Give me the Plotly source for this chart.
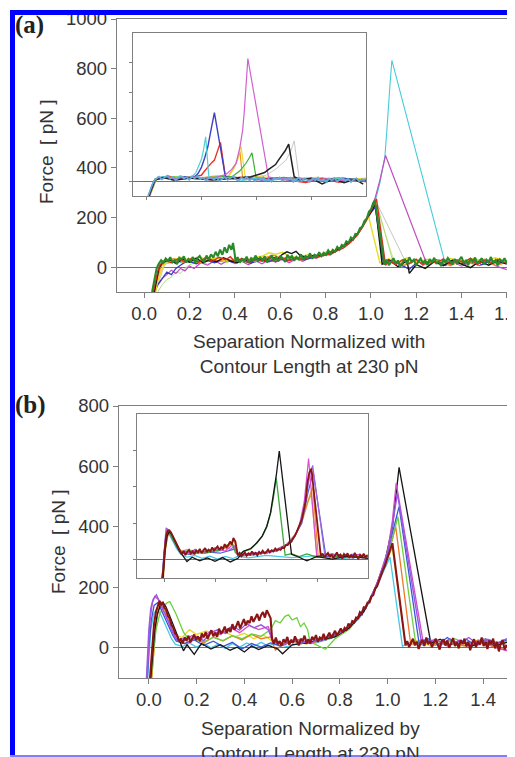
import plotly.graph_objects as go

# ---------------- panel (a), main plot: (separation, force pN) ----------------
A_GREEN = [(0.035, -100), (0.045, -50), (0.055, -5), (0.065, 15), (0.075, 28), (0.085, 18), (0.095, 35),
           (0.105, 26), (0.115, 40), (0.125, 20), (0.135, 29), (0.145, 12), (0.155, 38), (0.165, 31),
           (0.175, 44), (0.185, 19), (0.195, 33), (0.205, 24), (0.215, 41), (0.225, 17), (0.235, 36),
           (0.245, 45), (0.255, 28), (0.265, 22), (0.275, 47), (0.285, 30), (0.295, 52), (0.305, 38),
           (0.315, 62), (0.325, 44), (0.335, 71), (0.345, 50), (0.355, 80), (0.365, 58), (0.375, 90),
           (0.385, 70), (0.392, 98), (0.398, 62), (0.403, 25), (0.412, 40), (0.422, 18), (0.432, 33),
           (0.442, 24), (0.452, 42), (0.462, 20), (0.472, 36), (0.482, 28), (0.492, 47), (0.502, 22),
           (0.512, 39), (0.522, 30), (0.532, 44), (0.542, 19), (0.552, 35), (0.562, 48), (0.572, 27),
           (0.582, 40), (0.592, 24), (0.602, 46), (0.612, 33), (0.622, 21), (0.632, 50), (0.642, 36),
           (0.652, 45), (0.662, 26), (0.672, 41), (0.682, 32), (0.692, 52), (0.702, 30), (0.712, 44),
           (0.722, 38), (0.732, 56), (0.742, 34), (0.752, 50), (0.762, 42), (0.772, 60), (0.782, 45),
           (0.792, 58), (0.802, 50), (0.812, 68), (0.822, 54), (0.832, 70), (0.842, 63), (0.852, 82),
           (0.862, 71), (0.872, 90), (0.882, 85), (0.892, 104), (0.902, 97), (0.912, 120), (0.922, 112),
           (0.932, 134), (0.942, 133), (0.952, 157), (0.962, 162), (0.972, 186), (0.982, 196), (0.992, 224),
           (1.002, 234), (1.010, 258), (1.018, 268), (1.060, 10), (1.07, 30), (1.08, 8), (1.09, 22),
           (1.10, 36), (1.11, 14), (1.12, 27), (1.13, 3), (1.14, 18), (1.15, 33), (1.16, 12), (1.17, 40),
           (1.18, 21), (1.19, 30), (1.20, 6), (1.21, 24), (1.22, 35), (1.23, 15), (1.24, 28), (1.25, 9),
           (1.26, 32), (1.27, 20), (1.28, 38), (1.29, 13), (1.30, 26), (1.31, 4), (1.32, 30), (1.33, 19),
           (1.34, 37), (1.35, 23), (1.36, 10), (1.37, 33), (1.38, 16), (1.39, 29), (1.40, 42), (1.41, 18),
           (1.42, 27), (1.43, 8), (1.44, 34), (1.45, 21), (1.46, 39), (1.47, 14), (1.48, 25), (1.49, 36),
           (1.50, 11), (1.51, 30), (1.52, 19), (1.53, 41), (1.54, 16), (1.55, 28), (1.56, 7), (1.57, 31),
           (1.58, 22), (1.59, 36), (1.60, 15)]
A_RED = [(0.04, -100), (0.05, -60), (0.06, -15), (0.07, 10), (0.09, 28), (0.12, 18), (0.15, 34), (0.18, 22),
         (0.21, 36), (0.24, 20), (0.27, 38), (0.30, 24), (0.33, 40), (0.36, 30), (0.38, 42), (0.40, 22),
         (0.43, 35), (0.46, 18), (0.49, 32), (0.52, 24), (0.55, 38), (0.58, 22), (0.61, 36), (0.64, 26),
         (0.67, 40), (0.70, 30), (0.73, 44), (0.76, 38), (0.79, 52), (0.82, 50), (0.85, 66), (0.88, 78),
         (0.91, 100), (0.94, 128), (0.96, 158), (0.98, 190), (1.00, 228), (1.015, 258), (1.025, 275),
         (1.065, 8), (1.08, 25), (1.11, 10), (1.14, 30), (1.17, 14), (1.20, 32), (1.23, 8), (1.26, 28),
         (1.29, 16), (1.32, 34), (1.35, 12), (1.38, 30), (1.41, 18), (1.44, 36), (1.47, 10), (1.50, 28),
         (1.53, 16), (1.56, 32), (1.59, 18)]
A_BLACK = [(0.045, -100), (0.055, -50), (0.065, -5), (0.08, 18), (0.11, 30), (0.14, 15), (0.17, 32), (0.20, 20),
           (0.23, 36), (0.26, 18), (0.29, 30), (0.32, 22), (0.35, 38), (0.38, 26), (0.41, 18), (0.44, 32),
           (0.47, 22), (0.50, 36), (0.53, 26), (0.56, 40), (0.59, 34), (0.61, 52), (0.63, 62), (0.65, 55),
           (0.67, 64), (0.69, 45), (0.72, 40), (0.75, 48), (0.78, 46), (0.81, 58), (0.84, 62), (0.87, 82),
           (0.90, 98), (0.93, 122), (0.96, 160), (0.98, 192), (1.00, 225), (1.02, 252), (1.05, 12), (1.08, 30),
           (1.12, 2), (1.16, 26), (1.17, -25), (1.20, 10), (1.24, -5), (1.28, 22), (1.32, 6), (1.36, 28),
           (1.40, 12), (1.44, -2), (1.48, 24), (1.52, 8), (1.56, 26), (1.60, 12)]
A_YELLOW = [(0.05, -100), (0.06, -55), (0.075, -15), (0.09, 12), (0.12, 25), (0.16, 40), (0.20, 28), (0.24, 42),
            (0.28, 30), (0.32, 38), (0.36, 26), (0.40, 34), (0.44, 24), (0.48, 38), (0.52, 44), (0.55, 58),
            (0.58, 52), (0.61, 60), (0.64, 44), (0.68, 38), (0.72, 50), (0.76, 44), (0.80, 60), (0.84, 66),
            (0.88, 86), (0.92, 112), (0.95, 145), (0.975, 180), (0.99, 205), (1.04, 18), (1.08, 34), (1.12, 20),
            (1.16, 38), (1.20, 18), (1.25, 32), (1.30, 22), (1.35, 36), (1.40, 20), (1.45, 34), (1.50, 24),
            (1.55, 38), (1.60, 22)]
A_ORANGE = [(0.045, -100), (0.06, -40), (0.075, 5), (0.09, 22), (0.13, 34), (0.17, 20), (0.21, 30), (0.25, 18),
            (0.29, 36), (0.33, 24), (0.37, 32), (0.41, 20), (0.45, 34), (0.49, 22), (0.53, 38), (0.57, 48),
            (0.61, 36), (0.65, 40), (0.69, 30), (0.73, 44), (0.77, 40), (0.81, 56), (0.85, 68), (0.89, 90),
            (0.93, 124), (0.96, 160), (0.99, 210), (1.01, 245), (1.02, 262), (1.062, 12), (1.10, 26), (1.15, 8),
            (1.20, 28), (1.25, 12), (1.30, 30), (1.35, 6), (1.40, 26), (1.45, 14), (1.50, 32), (1.55, 6), (1.60, 20)]
A_MAGENTA = [(0.04, -100), (0.06, -70), (0.08, -45), (0.10, -30), (0.12, -12), (0.14, -25), (0.16, -5),
             (0.18, -15), (0.20, 5), (0.22, -5), (0.25, 18), (0.28, 8), (0.31, 26), (0.34, 12), (0.37, 28),
             (0.40, 14), (0.43, 24), (0.46, 10), (0.49, 26), (0.52, 14), (0.55, 30), (0.58, 20), (0.61, 32),
             (0.64, 18), (0.67, 34), (0.70, 24), (0.73, 40), (0.76, 36), (0.79, 50), (0.82, 52), (0.85, 68),
             (0.88, 84), (0.91, 102), (0.94, 132), (0.97, 172), (1.00, 232), (1.02, 282), (1.04, 350),
             (1.055, 410), (1.065, 450), (1.246, 15), (1.28, 26), (1.32, 8), (1.36, 22), (1.40, 4), (1.44, 20),
             (1.48, 6), (1.52, 24), (1.56, 2), (1.60, -10)]
A_CYAN = [(0.04, -100), (0.055, -45), (0.07, 0), (0.09, 18), (0.13, 30), (0.17, 16), (0.21, 32), (0.25, 20),
          (0.29, 34), (0.33, 22), (0.37, 30), (0.41, 18), (0.45, 30), (0.49, 20), (0.53, 34), (0.57, 24),
          (0.61, 36), (0.65, 26), (0.69, 38), (0.73, 34), (0.77, 46), (0.81, 50), (0.85, 66), (0.89, 88),
          (0.93, 120), (0.96, 158), (0.99, 205), (1.01, 250), (1.025, 284), (1.04, 340), (1.05, 390),
          (1.062, 445), (1.07, 540), (1.077, 648), (1.085, 740), (1.093, 833), (1.327, 20), (1.36, 30),
          (1.40, 14), (1.44, 32), (1.48, 16), (1.52, 30), (1.56, 12), (1.60, 26)]
A_BLUE = [(0.045, -100), (0.06, -70), (0.08, -45), (0.10, -20), (0.12, -30), (0.14, -5), (0.16, 8), (0.19, 25),
          (0.23, 14), (0.27, 30), (0.31, 18), (0.35, 32), (0.39, 20), (0.43, 28), (0.47, 16), (0.51, 30),
          (0.55, 22), (0.59, 34), (0.63, 26), (0.67, 36), (0.71, 30), (0.75, 42), (0.79, 46), (0.83, 58),
          (0.87, 78), (0.91, 104), (0.95, 142), (0.98, 186), (1.00, 220), (1.02, 242), (1.055, 15), (1.09, 28),
          (1.13, 10), (1.17, -8), (1.21, 24), (1.25, 12), (1.29, 30), (1.33, 8), (1.37, 26), (1.41, 14),
          (1.45, 32), (1.49, 10), (1.53, 28), (1.57, 16), (1.60, 24)]
A_PALEGREEN = [(0.06, -100), (0.08, -70), (0.10, -50), (0.12, -40), (0.14, -20), (0.16, -25), (0.18, -5),
               (0.20, 10), (0.24, 22), (0.28, 12), (0.32, 28), (0.36, 18), (0.40, 30), (0.44, 20), (0.50, 32),
               (0.56, 24), (0.62, 36), (0.68, 30), (0.74, 40), (0.80, 50), (0.86, 72), (0.92, 112), (0.96, 158),
               (1.00, 222), (1.03, 245), (1.10, 15), (1.16, 28), (1.24, 14), (1.32, 26), (1.40, 12), (1.48, 28),
               (1.56, 16), (1.60, 22)]
A_GRAY = [(0.05, -100), (0.07, -40), (0.09, 10), (0.14, 28), (0.20, 18), (0.26, 30), (0.32, 20), (0.38, 32),
          (0.44, 22), (0.50, 34), (0.56, 26), (0.62, 38), (0.68, 32), (0.74, 42), (0.80, 50), (0.86, 70),
          (0.92, 110), (0.96, 156), (1.00, 220), (1.03, 252), (1.157, 15), (1.20, 28), (1.26, 14), (1.32, 30),
          (1.40, 16), (1.48, 30), (1.56, 14), (1.60, 24)]
A_PALEYELLOW = [(0.05, -100), (0.07, -30), (0.09, 15), (0.20, 25), (0.40, 28), (0.60, 32), (0.80, 48),
                (0.90, 95), (0.96, 152), (1.00, 215), (1.025, 248), (1.106, 15), (1.20, 22), (1.40, 20), (1.60, 18)]

# ---------------- panel (a), inset ----------------
IA_LBLUE = [(0.005, -100), (0.012, -60), (0.02, -25), (0.028, 5), (0.035, 18), (0.045, 31), (0.055, 12),
            (0.065, 26), (0.075, 38), (0.085, 16), (0.095, 29), (0.105, 6), (0.115, 22), (0.125, 34), (0.135, 18),
            (0.145, 27), (0.155, 10), (0.165, 31), (0.175, 20), (0.185, 36), (0.195, 14), (0.205, 24), (0.215, 5),
            (0.225, 19), (0.235, 30), (0.245, 11), (0.255, 25), (0.265, 2), (0.275, 16), (0.285, 28), (0.295, 9),
            (0.305, 21), (0.315, 33), (0.325, 12), (0.335, 3), (0.345, 24), (0.355, 14), (0.365, 29), (0.375, 6),
            (0.385, 18), (0.395, -1), (0.405, 22), (0.415, 10), (0.425, 27), (0.435, 4), (0.445, 15), (0.455, -3),
            (0.465, 20), (0.475, 12), (0.485, 25), (0.495, 1), (0.505, 16), (0.515, 8), (0.525, 23), (0.535, -5),
            (0.545, 13), (0.555, 22), (0.565, 3), (0.575, 18), (0.585, 9), (0.595, -4), (0.605, 19), (0.615, 6),
            (0.625, 24), (0.635, 0), (0.645, 14), (0.655, -7), (0.665, 17), (0.675, 5), (0.685, 21), (0.695, -2),
            (0.705, 11), (0.715, 23), (0.725, 2), (0.735, 15), (0.745, -6), (0.755, 12), (0.765, 20), (0.775, -1),
            (0.785, 14), (0.795, 3)]
IA_GRAY = [(0.008, -100), (0.02, -40), (0.03, 10), (0.04, 28), (0.06, 15), (0.08, 38), (0.10, 20), (0.12, 34),
           (0.14, 16), (0.16, 30), (0.18, 22), (0.20, 12), (0.24, 28), (0.28, 16), (0.32, 30), (0.36, 12),
           (0.40, 26), (0.44, 10), (0.48, 24), (0.52, 8), (0.56, 22), (0.60, 6), (0.64, 20), (0.68, 4),
           (0.72, 22), (0.76, 8), (0.80, 18)]
IA_CYAN = [(0.006, -100), (0.018, -30), (0.03, 15), (0.06, 30), (0.09, 14), (0.12, 32), (0.15, 18), (0.17, 40),
           (0.18, 60), (0.19, 100), (0.20, 150), (0.207, 210), (0.215, 300), (0.227, 22), (0.25, 10), (0.30, 24),
           (0.35, 6), (0.40, 20), (0.45, 4), (0.50, 18), (0.55, 0), (0.60, 16), (0.65, 2), (0.70, 18), (0.75, 0),
           (0.80, 14)]
IA_BLUE = [(0.007, -100), (0.02, -30), (0.03, 12), (0.06, 26), (0.10, 12), (0.14, 30), (0.17, 20), (0.187, 52),
           (0.20, 95), (0.212, 160), (0.223, 232), (0.235, 350), (0.247, 462), (0.287, 30), (0.32, 14), (0.36, 26),
           (0.42, 8), (0.48, 20), (0.54, 4), (0.60, 18), (0.66, 2), (0.72, 16), (0.80, 6)]
IA_RED = [(0.01, -100), (0.022, -20), (0.035, 15), (0.08, 30), (0.12, 14), (0.16, 28), (0.199, 40), (0.212, 70),
          (0.225, 100), (0.237, 125), (0.247, 142), (0.26, 210), (0.269, 262), (0.287, 30), (0.30, 15), (0.34, 26),
          (0.40, 10), (0.46, 22), (0.52, 6), (0.58, -10), (0.64, 20), (0.70, -8), (0.76, 14), (0.80, -4)]
IA_MAGENTA = [(0.009, -100), (0.02, -40), (0.032, 10), (0.07, 26), (0.12, 12), (0.17, 28), (0.22, 14), (0.26, 30),
              (0.29, 47), (0.31, 80), (0.326, 120), (0.34, 230), (0.35, 345), (0.356, 470), (0.362, 637),
              (0.369, 828), (0.444, 30), (0.48, 14), (0.54, 24), (0.60, 6), (0.66, 18), (0.72, 2), (0.80, 12)]
IA_ORANGE = [(0.01, -100), (0.025, -20), (0.035, 18), (0.10, 30), (0.18, 18), (0.24, 32), (0.30, 40), (0.315, 80),
             (0.33, 140), (0.34, 200), (0.35, 20), (0.40, 28), (0.50, 10), (0.60, 20), (0.70, 4), (0.80, 16)]
IA_YELLOW = [(0.012, -100), (0.03, -10), (0.04, 20), (0.12, 32), (0.20, 20), (0.26, 34), (0.302, 40), (0.32, 90),
             (0.335, 170), (0.344, 236), (0.36, 20), (0.42, 30), (0.52, 14), (0.62, 26), (0.72, 10), (0.80, 20)]
IA_GREEN = [(0.01, -100), (0.025, -25), (0.035, 14), (0.10, 28), (0.18, 16), (0.26, 30), (0.313, 32), (0.34, 70),
            (0.362, 121), (0.375, 160), (0.384, 191), (0.399, 25), (0.44, 12), (0.50, 26), (0.60, 8), (0.70, 22),
            (0.80, 6)]
IA_BLACK = [(0.008, -100), (0.02, -35), (0.03, 8), (0.06, 24), (0.10, 6), (0.16, 22), (0.24, 8), (0.32, 20),
            (0.38, 30), (0.411, 47), (0.43, 58), (0.445, 80), (0.46, 97), (0.47, 112), (0.48, 140), (0.488, 160),
            (0.496, 187), (0.505, 205), (0.518, 250), (0.538, 30), (0.56, 8), (0.60, 20), (0.64, -18), (0.68, 14),
            (0.72, -10), (0.76, 12), (0.79, -20)]
IA_LGRAY = [(0.01, -100), (0.03, 5), (0.05, 30), (0.15, 18), (0.25, 30), (0.35, 20), (0.40, 30), (0.435, 40),
            (0.47, 80), (0.49, 110), (0.508, 142), (0.525, 200), (0.538, 272), (0.556, 20), (0.62, 24), (0.70, 10),
            (0.80, 18)]

# ---------------- panel (b), main plot ----------------
B_DARKRED = [(0.005, -100), (0.01, -50), (0.016, 20), (0.022, 80), (0.03, 120), (0.038, 142), (0.045, 155),
             (0.052, 140), (0.058, 152), (0.065, 132), (0.072, 128), (0.08, 105), (0.088, 98), (0.095, 75),
             (0.102, 68), (0.11, 48), (0.118, 40), (0.126, 22), (0.134, 30), (0.142, 14), (0.15, 35), (0.158, 24),
             (0.166, 40), (0.174, 18), (0.182, 33), (0.19, 44), (0.198, 26), (0.206, 38), (0.214, 22), (0.222, 47),
             (0.23, 35), (0.238, 52), (0.246, 30), (0.254, 44), (0.262, 58), (0.27, 38), (0.278, 50), (0.286, 36),
             (0.294, 63), (0.302, 47), (0.31, 55), (0.318, 70), (0.326, 49), (0.334, 64), (0.342, 52), (0.35, 78),
             (0.358, 60), (0.366, 71), (0.374, 88), (0.382, 64), (0.39, 80), (0.398, 95), (0.406, 74), (0.414, 90),
             (0.422, 82), (0.43, 104), (0.438, 86), (0.446, 97), (0.454, 112), (0.462, 90), (0.47, 108),
             (0.478, 118), (0.486, 100), (0.494, 124), (0.502, 110), (0.51, 98), (0.516, 30), (0.524, 14),
             (0.532, 34), (0.54, 12), (0.548, 22), (0.556, 6), (0.564, 28), (0.572, 18), (0.58, 36), (0.588, 10),
             (0.596, 24), (0.604, 16), (0.612, 38), (0.62, 20), (0.628, 8), (0.636, 30), (0.644, 22), (0.652, 40),
             (0.66, 18), (0.668, 28), (0.676, 14), (0.684, 36), (0.692, 26), (0.70, 42), (0.708, 20), (0.716, 34),
             (0.724, 28), (0.732, 46), (0.74, 26), (0.748, 38), (0.756, 50), (0.764, 32), (0.772, 44), (0.78, 56),
             (0.788, 40), (0.796, 52), (0.804, 64), (0.812, 50), (0.82, 66), (0.828, 60), (0.836, 80), (0.844, 70),
             (0.852, 88), (0.86, 84), (0.868, 100), (0.876, 98), (0.884, 118), (0.892, 112), (0.90, 134),
             (0.908, 132), (0.916, 150), (0.924, 150), (0.932, 170), (0.94, 174), (0.948, 196), (0.956, 204),
             (0.964, 224), (0.972, 236), (0.98, 256), (0.988, 270), (0.996, 290), (1.004, 304), (1.012, 328),
             (1.02, 346), (1.075, 8), (1.082, 22), (1.09, 2), (1.098, 14), (1.106, 30), (1.114, 8), (1.122, 20),
             (1.13, -4), (1.138, 16), (1.146, 26), (1.154, 6), (1.162, 34), (1.17, 12), (1.178, 22), (1.186, 2),
             (1.194, 18), (1.202, 30), (1.21, 10), (1.218, -6), (1.226, 20), (1.234, 28), (1.242, 8), (1.25, 24),
             (1.258, 0), (1.266, 14), (1.274, 32), (1.282, 6), (1.29, 18), (1.298, -2), (1.306, 26), (1.314, 12),
             (1.322, 30), (1.33, 4), (1.338, 20), (1.346, -8), (1.354, 16), (1.362, 28), (1.37, 2), (1.378, 22),
             (1.386, 10), (1.394, 34), (1.402, 6), (1.41, 18), (1.418, -4), (1.426, 24), (1.434, 12), (1.442, 30),
             (1.45, -2), (1.458, 20), (1.466, -12), (1.474, 14), (1.482, 26), (1.49, -6), (1.498, 10)]
B_PURPLE = [(-0.01, -100), (-0.005, -20), (0.0, 60), (0.008, 130), (0.018, 160), (0.032, 175), (0.045, 150),
            (0.06, 125), (0.075, 100), (0.09, 70), (0.105, 45), (0.12, 22), (0.14, 30), (0.17, 18), (0.20, 36),
            (0.23, 24), (0.26, 50), (0.29, 60), (0.32, 48), (0.35, 72), (0.38, 58), (0.41, 80), (0.44, 66),
            (0.47, 76), (0.50, 60), (0.52, 20), (0.56, 12), (0.60, 26), (0.64, 14), (0.68, 28), (0.72, 22),
            (0.76, 40), (0.80, 50), (0.84, 72), (0.88, 106), (0.92, 150), (0.96, 220), (0.99, 290), (1.01, 350),
            (1.025, 430), (1.041, 511), (1.143, 12), (1.18, 26), (1.22, 8), (1.26, 30), (1.30, 14), (1.34, 34),
            (1.38, 10), (1.42, 28), (1.46, 16), (1.50, 30)]
B_MAGENTA = [(-0.008, -100), (-0.002, -10), (0.005, 90), (0.015, 150), (0.025, 170), (0.04, 160), (0.055, 135),
             (0.07, 110), (0.085, 80), (0.10, 50), (0.115, 30), (0.14, 20), (0.18, 40), (0.22, 30), (0.26, 56),
             (0.30, 44), (0.34, 68), (0.38, 50), (0.42, 74), (0.46, 60), (0.50, 70), (0.52, 24), (0.56, 10),
             (0.62, 28), (0.68, 16), (0.74, 34), (0.80, 48), (0.86, 86), (0.92, 150), (0.96, 222), (1.00, 320),
             (1.02, 420), (1.036, 545), (1.15, 14), (1.20, 28), (1.25, 6), (1.30, 24), (1.35, 10), (1.40, 30),
             (1.45, 2), (1.50, -10)]
B_BLACK = [(0.008, -100), (0.015, -30), (0.025, 60), (0.035, 110), (0.048, 140), (0.06, 150), (0.072, 135),
           (0.085, 110), (0.10, 80), (0.115, 50), (0.13, 25), (0.145, -10), (0.16, 10), (0.19, -22), (0.22, 14),
           (0.26, -4), (0.30, 10), (0.34, -8), (0.37, 2), (0.40, -14), (0.43, 6), (0.46, -6), (0.50, 8),
           (0.54, -4), (0.56, -20), (0.60, 10), (0.66, 16), (0.72, 26), (0.78, 36), (0.84, 66), (0.90, 120),
           (0.95, 200), (0.99, 290), (1.02, 400), (1.035, 500), (1.048, 597), (1.181, 15), (1.22, 28), (1.26, 8),
           (1.30, 24), (1.35, 4), (1.40, 22), (1.45, 6), (1.50, 18)]
B_CYAN = [(-0.005, -100), (0.0, -20), (0.008, 60), (0.02, 110), (0.035, 130), (0.05, 110), (0.065, 85), (0.08, 55),
          (0.095, 30), (0.11, 12), (0.14, 4), (0.17, 16), (0.20, 2), (0.23, 14), (0.26, 0), (0.29, 12), (0.32, -2),
          (0.35, 14), (0.38, 2), (0.41, 16), (0.44, 4), (0.47, 18), (0.50, 6), (0.53, 14), (0.58, 4), (0.64, 18),
          (0.70, 16), (0.76, 30), (0.82, 52), (0.88, 96), (0.93, 160), (0.97, 230), (1.01, 300), (1.062, 5),
          (1.10, 20), (1.15, 8), (1.20, 24), (1.25, 10), (1.30, 22), (1.35, 6), (1.40, 26), (1.45, 10), (1.50, 20)]
B_BLUE = [(-0.006, -100), (0.0, 0), (0.01, 90), (0.022, 140), (0.038, 150), (0.055, 120), (0.07, 95), (0.085, 70),
          (0.10, 42), (0.115, 22), (0.15, 14), (0.19, 26), (0.23, 8), (0.27, 22), (0.31, 4), (0.35, 18), (0.39, -4),
          (0.43, 14), (0.47, 2), (0.51, 16), (0.55, 6), (0.60, 22), (0.66, 14), (0.72, 30), (0.78, 40), (0.84, 68),
          (0.90, 118), (0.95, 196), (0.99, 282), (1.02, 380), (1.048, 467), (1.132, 14), (1.17, 30), (1.21, 10),
          (1.25, 34), (1.29, 12), (1.33, 28), (1.37, 6), (1.41, 30), (1.45, 12), (1.50, 26)]
B_YELLOW = [(0.012, -100), (0.02, -20), (0.03, 70), (0.038, 120), (0.046, 150), (0.06, 130), (0.075, 105),
            (0.09, 80), (0.105, 55), (0.12, 40), (0.14, 34), (0.17, 60), (0.20, 44), (0.24, 56), (0.28, 40),
            (0.32, 52), (0.36, 36), (0.40, 48), (0.44, 30), (0.48, 42), (0.52, 20), (0.56, 8), (0.60, 22),
            (0.66, 12), (0.72, 28), (0.78, 36), (0.84, 66), (0.90, 120), (0.95, 200), (0.99, 280), (1.02, 330),
            (1.076, 8), (1.12, 24), (1.18, 6), (1.24, 22), (1.30, 4), (1.36, 20), (1.42, 8), (1.50, 22)]
B_ORANGE = [(0.012, -100), (0.02, -10), (0.03, 80), (0.04, 125), (0.05, 140), (0.065, 130), (0.08, 105),
            (0.095, 75), (0.11, 48), (0.125, 28), (0.15, 14), (0.19, 30), (0.23, 16), (0.27, 36), (0.31, 22),
            (0.35, 40), (0.39, 26), (0.43, 44), (0.47, 30), (0.51, 36), (0.53, -8), (0.56, 10), (0.62, 24),
            (0.68, 14), (0.74, 32), (0.80, 46), (0.86, 82), (0.92, 148), (0.97, 236), (1.01, 330), (1.034, 401),
            (1.097, 10), (1.14, 26), (1.20, 8), (1.26, 24), (1.32, 6), (1.38, 26), (1.44, 4), (1.50, -8)]
B_LGREEN = [(0.01, -100), (0.018, -20), (0.03, 60), (0.045, 110), (0.06, 135), (0.075, 148), (0.088, 153),
            (0.10, 135), (0.115, 110), (0.13, 80), (0.145, 52), (0.16, 36), (0.19, 30), (0.23, 20), (0.27, 34),
            (0.31, 24), (0.35, 40), (0.39, 30), (0.43, 46), (0.47, 38), (0.51, 60), (0.53, 90), (0.55, 82),
            (0.57, 104), (0.585, 109), (0.60, 92), (0.62, 100), (0.635, 70), (0.65, 82), (0.665, 60), (0.675, 20),
            (0.70, 10), (0.74, -5), (0.78, 30), (0.84, 62), (0.90, 120), (0.95, 196), (0.99, 280), (1.02, 360),
            (1.043, 434), (1.118, 12), (1.16, 28), (1.22, 10), (1.28, 30), (1.34, 12), (1.40, 28), (1.46, 8),
            (1.50, 22)]

# ---------------- panel (b), inset ----------------
IB_DARKRED = [(-0.007, -100), (-0.002, -40), (0.003, 60), (0.008, 130), (0.014, 160), (0.021, 162), (0.028, 148),
              (0.035, 128), (0.042, 110), (0.05, 86), (0.057, 66), (0.063, 48), (0.07, 30), (0.077, 48), (0.084, 26),
              (0.091, 42), (0.098, 54), (0.105, 34), (0.112, 46), (0.119, 30), (0.126, 52), (0.133, 40), (0.14, 60),
              (0.147, 36), (0.154, 50), (0.161, 64), (0.168, 42), (0.175, 56), (0.182, 46), (0.189, 68), (0.196, 50),
              (0.203, 62), (0.21, 74), (0.217, 54), (0.224, 70), (0.231, 60), (0.238, 86), (0.245, 68), (0.252, 80),
              (0.259, 100), (0.266, 84), (0.272, 120), (0.28, 100), (0.289, 25), (0.296, 38), (0.303, 18),
              (0.31, 30), (0.317, 40), (0.324, 22), (0.331, 36), (0.338, 28), (0.345, 46), (0.352, 30), (0.359, 38),
              (0.366, 24), (0.373, 44), (0.38, 34), (0.387, 50), (0.394, 36), (0.401, 42), (0.408, 56), (0.415, 40),
              (0.422, 52), (0.429, 46), (0.436, 62), (0.443, 50), (0.45, 58), (0.457, 54), (0.464, 68), (0.471, 64),
              (0.478, 80), (0.485, 80), (0.492, 96), (0.499, 100), (0.506, 118), (0.513, 130), (0.52, 152),
              (0.527, 172), (0.534, 200), (0.541, 225), (0.548, 268), (0.555, 320), (0.562, 420), (0.57, 480),
              (0.578, 500), (0.615, 20), (0.622, 34), (0.629, 12), (0.636, 26), (0.643, 38), (0.65, 16), (0.657, 30),
              (0.664, 8), (0.671, 24), (0.678, 40), (0.685, 18), (0.692, 28), (0.699, 6), (0.706, 32), (0.713, 22),
              (0.72, 36), (0.727, 10), (0.734, 26), (0.741, 14), (0.748, 38), (0.755, 20), (0.762, 4), (0.769, 28),
              (0.776, 16), (0.783, 34), (0.79, 12), (0.797, 24)]
IB_PURPLE = [(-0.008, -100), (-0.003, 0), (0.002, 100), (0.008, 175), (0.015, 168), (0.025, 140), (0.035, 110),
             (0.045, 80), (0.055, 55), (0.065, 35), (0.08, 50), (0.10, 34), (0.12, 56), (0.14, 38), (0.16, 62),
             (0.18, 46), (0.20, 66), (0.22, 50), (0.24, 72), (0.26, 56), (0.28, 80), (0.29, 30), (0.32, 24),
             (0.36, 40), (0.40, 34), (0.44, 56), (0.48, 84), (0.51, 120), (0.54, 220), (0.56, 360), (0.572, 470),
             (0.583, 518), (0.631, 22), (0.66, 34), (0.70, 14), (0.74, 30), (0.78, 10), (0.80, 24)]
IB_MAGENTA = [(-0.006, -100), (0.0, 20), (0.006, 120), (0.012, 165), (0.02, 160), (0.03, 130), (0.045, 90),
              (0.06, 50), (0.08, 34), (0.12, 52), (0.16, 40), (0.20, 62), (0.24, 48), (0.27, 84), (0.29, 26),
              (0.34, 36), (0.40, 42), (0.46, 64), (0.50, 104), (0.53, 180), (0.55, 320), (0.56, 450), (0.567, 555),
              (0.599, 20), (0.64, 32), (0.70, 14), (0.76, 30), (0.80, 16)]
IB_ORANGE = [(-0.004, -100), (0.004, 40), (0.012, 120), (0.02, 150), (0.03, 132), (0.045, 96), (0.06, 58),
             (0.08, 40), (0.14, 46), (0.20, 40), (0.25, 70), (0.275, 105), (0.29, 30), (0.35, 30), (0.42, 44),
             (0.48, 82), (0.52, 150), (0.55, 260), (0.57, 350), (0.583, 400), (0.605, 18), (0.66, 30), (0.72, 12),
             (0.80, 26)]
IB_TAN = [(-0.002, -100), (0.006, 60), (0.016, 140), (0.025, 150), (0.035, 120), (0.05, 80), (0.065, 45),
          (0.09, 56), (0.14, 44), (0.20, 50), (0.26, 90), (0.28, 70), (0.29, 20), (0.36, 34), (0.44, 50), (0.50, 96),
          (0.54, 200), (0.565, 320), (0.578, 358), (0.60, 16), (0.68, 28), (0.80, 14)]
IB_BLUE = [(-0.007, -100), (0.0, 30), (0.01, 140), (0.02, 150), (0.035, 108), (0.05, 70), (0.065, 38), (0.10, 30),
           (0.16, 44), (0.22, 36), (0.28, 60), (0.29, 20), (0.36, 28), (0.44, 48), (0.50, 98), (0.54, 200),
           (0.565, 370), (0.585, 480), (0.635, 18), (0.68, 30), (0.74, 10), (0.80, 24)]
IB_CYAN = [(-0.006, -100), (0.0, 40), (0.01, 130), (0.02, 140), (0.035, 100), (0.05, 60), (0.065, 30), (0.09, 14),
           (0.12, 24), (0.15, 8), (0.18, 20), (0.21, 4), (0.24, 18), (0.27, 6), (0.29, 20), (0.33, 10), (0.40, 24),
           (0.50, 12), (0.60, 22), (0.70, 8), (0.80, 18)]
IB_GREEN = [(-0.005, -100), (0.003, 70), (0.012, 140), (0.02, 150), (0.035, 110), (0.05, 70), (0.065, 40),
            (0.10, 48), (0.16, 36), (0.22, 56), (0.265, 95), (0.28, 40), (0.29, 30), (0.311, 44), (0.34, 58),
            (0.363, 90), (0.385, 128), (0.403, 180), (0.418, 255), (0.429, 340), (0.44, 450), (0.475, 25),
            (0.50, 34), (0.53, 18), (0.56, 32), (0.60, 14), (0.64, 28), (0.70, 12), (0.80, 20)]
IB_BLACK = [(-0.004, -100), (0.004, 50), (0.012, 130), (0.021, 156), (0.03, 140), (0.04, 110), (0.05, 80),
            (0.06, 50), (0.075, 20), (0.09, -10), (0.11, 14), (0.14, -6), (0.17, 10), (0.20, -8), (0.23, 12),
            (0.26, -12), (0.29, 8), (0.311, 46), (0.34, 62), (0.363, 92), (0.385, 130), (0.403, 184), (0.418, 260),
            (0.429, 349), (0.44, 460), (0.452, 597), (0.494, 128), (0.50, 30), (0.53, 14), (0.56, -6), (0.60, 18),
            (0.66, 4), (0.72, 20), (0.80, 8)]

# the page body keeps its default 8px margin, so the figure sits 8px in from the window corner
OFF = 8
W, H = 515 - OFF, 757 - OFF
FRAME = '#7f7f7f'
TXT = '#333333'
SANS = 'Liberation Sans, Arial, sans-serif'


def fx(p):
    return (p - OFF) / W


def fy(p):
    return 1 - (p - OFF) / H


fig = go.Figure()


def add(curve, color, xa, ya, width=1.2):
    xs = [c[0] for c in curve]
    ys = [c[1] for c in curve]
    fig.add_trace(go.Scatter(x=xs, y=ys, mode='lines', line=dict(color=color, width=width),
                             xaxis=xa, yaxis=ya, showlegend=False, hoverinfo='skip'))


# panel (a) main
add(A_PALEYELLOW, '#e6dc9a', 'x', 'y', 1)
add(A_GRAY, '#c6c6c6', 'x', 'y', 1)
add(A_PALEGREEN, '#a8e07a', 'x', 'y', 1)
add(A_CYAN, '#46ccd8', 'x', 'y', 1.1)
add(A_MAGENTA, '#c04cc0', 'x', 'y', 1.2)
add(A_BLUE, '#3a3ac8', 'x', 'y', 1.3)
add(A_ORANGE, '#f08a20', 'x', 'y', 1.3)
add(A_YELLOW, '#e8dc20', 'x', 'y', 1.4)
add(A_BLACK, '#151515', 'x', 'y', 1.4)
add(A_RED, '#e02a1e', 'x', 'y', 1.4)
add(A_GREEN, '#2a8a2a', 'x', 'y', 2.1)

# panel (a) inset
add(IA_LGRAY, '#c8c8c8', 'x2', 'y2', 1)
add(IA_GRAY, '#8c8c8c', 'x2', 'y2', 1)
add(IA_ORANGE, '#f09020', 'x2', 'y2')
add(IA_YELLOW, '#e8dc30', 'x2', 'y2')
add(IA_GREEN, '#3cb030', 'x2', 'y2')
add(IA_RED, '#f03020', 'x2', 'y2', 1.4)
add(IA_BLUE, '#4040c0', 'x2', 'y2', 1.4)
add(IA_CYAN, '#50d0d8', 'x2', 'y2')
add(IA_MAGENTA, '#d060d0', 'x2', 'y2', 1.2)
add(IA_BLACK, '#202020', 'x2', 'y2', 1.5)
add(IA_LBLUE, '#6aa8d8', 'x2', 'y2', 1.7)

# panel (b) main
add(B_CYAN, '#48c8e8', 'x3', 'y3', 1.3)
add(B_YELLOW, '#e8d828', 'x3', 'y3', 1.3)
add(B_ORANGE, '#f07828', 'x3', 'y3', 1.3)
add(B_LGREEN, '#6cd040', 'x3', 'y3', 1.3)
add(B_BLUE, '#3858d8', 'x3', 'y3', 1.3)
add(B_BLACK, '#151515', 'x3', 'y3', 1.3)
add(B_MAGENTA, '#d04cc8', 'x3', 'y3', 1.3)
add(B_PURPLE, '#9858e0', 'x3', 'y3', 1.4)
add(B_DARKRED, '#8a1515', 'x3', 'y3', 2.1)

# panel (b) inset
add(IB_CYAN, '#48c8e8', 'x4', 'y4')
add(IB_TAN, '#d0a848', 'x4', 'y4')
add(IB_ORANGE, '#f08830', 'x4', 'y4')
add(IB_BLUE, '#5060d8', 'x4', 'y4')
add(IB_PURPLE, '#a064e0', 'x4', 'y4')
add(IB_MAGENTA, '#d850d0', 'x4', 'y4')
add(IB_GREEN, '#3aa83a', 'x4', 'y4', 1.3)
add(IB_BLACK, '#151515', 'x4', 'y4', 1.3)
add(IB_DARKRED, '#8a1515', 'x4', 'y4', 1.8)

frame = dict(showline=True, linecolor=FRAME, linewidth=1.4, mirror=True, showgrid=False, automargin=False,
             ticks='outside', tickcolor=FRAME, ticklabeloverflow='allow')
big_font = dict(family=SANS, size=18.5, color=TXT)

fig.update_layout(
    width=W, height=H, margin=dict(l=0, r=0, t=0, b=0, pad=0),
    paper_bgcolor='white', plot_bgcolor='white',
    xaxis=dict(frame, domain=[fx(117), fx(507)], range=[-0.12, 1.601], anchor='y', zeroline=False,
               tickvals=[0, 0.2, 0.4, 0.6, 0.8, 1.0, 1.2, 1.4, 1.6],
               ticktext=['0.0', '0.2', '0.4', '0.6', '0.8', '1.0', '1.2', '1.4', '1.6'],
               ticklen=5, tickfont=big_font),
    yaxis=dict(frame, domain=[fy(292), fy(19)], range=[-100, 1000], anchor='x',
               tickvals=[0, 200, 400, 600, 800, 1000], ticklen=5, tickfont=big_font,
               zeroline=True, zerolinecolor='#707070', zerolinewidth=1),
    xaxis2=dict(frame, domain=[fx(133), fx(366)], range=[-0.05, 0.8], anchor='y2', zeroline=False,
                tickvals=[0, 0.2, 0.4, 0.6], ticklen=3, showticklabels=False),
    yaxis2=dict(frame, domain=[fy(196), fy(33)], range=[-100, 1000], anchor='x2',
                tickvals=[0, 200, 400, 600, 800], ticklen=3, showticklabels=False,
                zeroline=True, zerolinecolor='#707070', zerolinewidth=1),
    xaxis3=dict(frame, domain=[fx(119), fx(507)], range=[-0.125, 1.5], anchor='y3', zeroline=False,
                tickvals=[0, 0.2, 0.4, 0.6, 0.8, 1.0, 1.2, 1.4],
                ticktext=['0.0', '0.2', '0.4', '0.6', '0.8', '1.0', '1.2', '1.4'],
                ticklen=5, tickfont=big_font),
    yaxis3=dict(frame, domain=[fy(678), fy(406)], range=[-100, 800], anchor='x3',
                tickvals=[0, 200, 400, 600, 800], ticklen=5, tickfont=big_font,
                zeroline=True, zerolinecolor='#707070', zerolinewidth=1),
    xaxis4=dict(frame, domain=[fx(137), fx(368)], range=[-0.106, 0.8], anchor='y4', zeroline=False,
                tickvals=[0, 0.2, 0.4, 0.6], ticklen=3, showticklabels=False),
    yaxis4=dict(frame, domain=[fy(578), fy(414)], range=[-100, 800], anchor='x4',
                tickvals=[0, 200, 400, 600], ticklen=3, showticklabels=False,
                zeroline=True, zerolinecolor='#707070', zerolinewidth=1),
)

title_font = dict(family=SANS, size=19, color=TXT)
notes = [
    dict(text='<b>(a)</b>', x=fx(13), y=fy(25), xanchor='left', yanchor='middle',
         font=dict(family='Liberation Serif, Times New Roman, serif', size=25, color='#222222')),
    dict(text='<b>(b)</b>', x=fx(13), y=fy(405), xanchor='left', yanchor='middle',
         font=dict(family='Liberation Serif, Times New Roman, serif', size=25, color='#222222')),
    dict(text='Force  [ pN ]', x=fx(47), y=fy(152), textangle=-90, xanchor='center', yanchor='middle',
         font=title_font),
    dict(text='Force  [ pN ]', x=fx(58), y=fy(542), textangle=-90, xanchor='center', yanchor='middle',
         font=title_font),
    dict(text='Separation Normalized with<br>Contour Length at 230 pN', x=fx(309), y=fy(354),
         xanchor='center', yanchor='middle', font=title_font),
    dict(text='Separation Normalized by<br>Contour Length at 230 pN', x=fx(310), y=fy(741),
         xanchor='center', yanchor='middle', font=title_font),
]
for n in notes:
    fig.add_annotation(xref='paper', yref='paper', showarrow=False, **n)

# blue frame around the cropped figure
border = [
    (fx(12.5), fy(10), fx(12.5), 0, '#0000ff', 5),
    (fx(10), fy(12.5), 1, fy(12.5), '#0000ff', 5),
    (fx(510.5), fy(10), fx(510.5), 0, '#0000ff', 5),
    (fx(10), fy(756), fx(513), fy(756), '#8080ff', 2),
]
for x0, y0, x1, y1, c, w in border:
    fig.add_shape(type='line', xref='paper', yref='paper', x0=x0, y0=y0, x1=x1, y1=y1,
                  line=dict(color=c, width=w), layer='above')

fig.write_html("out.html")
